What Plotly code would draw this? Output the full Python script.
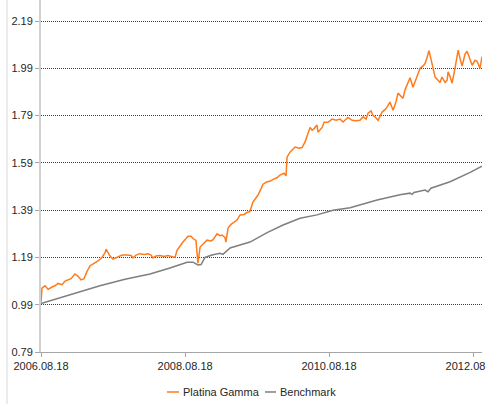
import pandas as pd
import plotly.graph_objects as go

START = "2006-08-18"
END_DAY = 2237

# Platina Gamma: day offsets from START and values
gamma_days = [0, 5, 20, 36, 56, 71, 86, 107, 122, 137, 152, 172, 188, 203, 218, 233, 249, 269, 289, 309,
              325, 330, 340, 350, 365, 386, 411, 436, 457, 467, 482, 502, 523, 543, 558, 568, 583, 604, 624, 644,
              665, 680, 690, 705, 720, 736, 746, 761, 771, 786, 796, 807, 822, 842, 862, 873, 893, 908, 918, 933,
              938, 949, 964, 979, 994, 1010, 1030, 1045, 1060, 1075, 1091, 1101, 1116, 1126, 1147, 1162, 1177, 1197, 1212, 1233,
              1243, 1248, 1263, 1273, 1289, 1309, 1324, 1339, 1355, 1365, 1375, 1385, 1400, 1405, 1426, 1436, 1456, 1476, 1497, 1517,
              1532, 1557, 1578, 1598, 1618, 1634, 1649, 1659, 1674, 1684, 1694, 1710, 1730, 1745, 1755, 1770, 1786, 1801, 1811, 1821,
              1836, 1847, 1857, 1872, 1887, 1902, 1913, 1923, 1938, 1948, 1958, 1968, 1978, 1984, 1999, 2014, 2024, 2034, 2050, 2060,
              2065, 2075, 2085, 2100, 2111, 2116, 2126, 2136, 2151, 2161, 2171, 2187, 2202, 2212, 2222, 2227, 2237]
gamma_vals = [1.00, 1.06, 1.07, 1.055, 1.065, 1.07, 1.08, 1.075, 1.09, 1.095, 1.10, 1.12, 1.11, 1.095, 1.10, 1.13, 1.155, 1.165, 1.175, 1.19,
              1.21, 1.225, 1.21, 1.196, 1.183, 1.19, 1.20, 1.20, 1.198, 1.188, 1.20, 1.206, 1.203, 1.205, 1.20, 1.188, 1.196, 1.198, 1.194, 1.198,
              1.195, 1.19, 1.22, 1.24, 1.255, 1.27, 1.28, 1.28, 1.27, 1.262, 1.166, 1.234, 1.245, 1.263, 1.26, 1.265, 1.29, 1.282, 1.285, 1.275,
              1.255, 1.314, 1.33, 1.34, 1.348, 1.37, 1.372, 1.38, 1.385, 1.424, 1.44, 1.454, 1.48, 1.50, 1.51, 1.512, 1.52, 1.527, 1.538, 1.546,
              1.535, 1.614, 1.635, 1.644, 1.657, 1.652, 1.655, 1.678, 1.716, 1.74, 1.728, 1.735, 1.75, 1.72, 1.74, 1.762, 1.762, 1.775, 1.77, 1.775,
              1.763, 1.782, 1.77, 1.768, 1.77, 1.785, 1.775, 1.80, 1.81, 1.79, 1.785, 1.77, 1.805, 1.815, 1.826, 1.847, 1.813, 1.85, 1.885, 1.875,
              1.863, 1.90, 1.92, 1.95, 1.91, 1.945, 1.97, 1.99, 2.00, 2.01, 2.035, 2.065, 2.03, 2.01, 1.953, 1.94, 1.93, 1.953, 1.93, 1.94,
              1.975, 1.955, 1.927, 1.99, 2.035, 2.067, 2.03, 2.00, 2.05, 2.062, 2.04, 2.003, 2.024, 2.02, 2.00, 1.99, 2.04]

# Benchmark
bench_days = [0, 96, 198, 299, 426, 553, 654, 741, 771, 786, 796, 812, 832, 867, 908, 923, 938, 959, 1060, 1147,
              1228, 1314, 1400, 1481, 1568, 1705, 1821, 1872, 1882, 1892, 1948, 1963, 1978, 2075, 2177, 2237]
bench_vals = [0.995, 1.02, 1.045, 1.07, 1.098, 1.12, 1.145, 1.17, 1.17, 1.163, 1.158, 1.16, 1.19, 1.20, 1.208, 1.203, 1.215, 1.23, 1.255, 1.295,
              1.327, 1.356, 1.37, 1.39, 1.40, 1.433, 1.455, 1.462, 1.457, 1.465, 1.475, 1.468, 1.483, 1.51, 1.55, 1.576]

x_tickvals = ["2006-08-18", "2008-08-18", "2010-08-18", "2012-08-18"]
x_ticktext = ["2006.08.18", "2008.08.18", "2010.08.18", "2012.08.18"]
y_tickvals = [0.79, 0.99, 1.19, 1.39, 1.59, 1.79, 1.99, 2.19]
y_ticktext = ["0.79", "0.99", "1.19", "1.39", "1.59", "1.79", "1.99", "2.19"]

series_names = ["Platina Gamma", "Benchmark"]
ORANGE = "#ff7b1c"
GRAY = "#7f7f7f"

start = pd.Timestamp(START)
gamma_dates = [start + pd.Timedelta(days=d) for d in gamma_days]
bench_dates = [start + pd.Timedelta(days=d) for d in bench_days]

FONT = "Liberation Sans, Arial, sans-serif"
FS = 11

fig = go.Figure()
fig.add_trace(go.Scatter(x=gamma_dates, y=gamma_vals, mode="lines", name=series_names[0],
                         line=dict(color=ORANGE, width=1.5), showlegend=False))
fig.add_trace(go.Scatter(x=bench_dates, y=bench_vals, mode="lines", name=series_names[1],
                         line=dict(color=GRAY, width=1.5), showlegend=False))

fig.update_layout(
    width=486, height=404,
    margin=dict(l=41, r=4, t=0, b=52, autoexpand=False),
    paper_bgcolor="white", plot_bgcolor="white",
    font=dict(family=FONT, size=FS, color="#262626"),
    xaxis=dict(
        type="date",
        range=[start, start + pd.Timedelta(days=END_DAY)],
        tickvals=x_tickvals, ticktext=x_ticktext,
        showgrid=False, zeroline=False,
        showline=True, linecolor="#a6a6a6", linewidth=1,
        ticks="outside", ticklen=4, tickcolor="#a6a6a6",
        ticklabeloverflow="allow", automargin=False,
    ),
    yaxis=dict(
        range=[0.79, 2.279],
        tickvals=y_tickvals, ticktext=y_ticktext,
        showgrid=True, gridcolor="#404040", griddash="1px,1px", gridwidth=1,
        zeroline=False,
        showline=True, linecolor="#d0d0d0", linewidth=2,
        ticks="outside", ticklen=4, tickcolor="#a6a6a6",
        automargin=False,
    ),
)

# chart-area border on the left
fig.add_shape(type="line", xref="paper", yref="paper", x0=-0.0771, x1=-0.0771, y0=-0.15, y1=1.0,
              line=dict(color="#d9d9d9", width=1))

# legend drawn compactly
legend_y = -0.1136
for (x0, x1, xt, name, col) in [(0.2857, 0.3129, 0.3175, series_names[0], ORANGE),
                                (0.5079, 0.5329, 0.5374, series_names[1], GRAY)]:
    fig.add_shape(type="line", xref="paper", yref="paper", x0=x0, x1=x1, y0=legend_y, y1=legend_y,
                  line=dict(color=col, width=1.5))
    fig.add_annotation(xref="paper", yref="paper", x=xt, y=legend_y, text=name, showarrow=False,
                       xanchor="left", yanchor="middle", font=dict(family=FONT, size=FS, color="#262626"))

fig.write_html("out.html",
               config={"displayModeBar": False},
               post_script="document.body.style.margin='0px';document.body.style.overflow='hidden';")
